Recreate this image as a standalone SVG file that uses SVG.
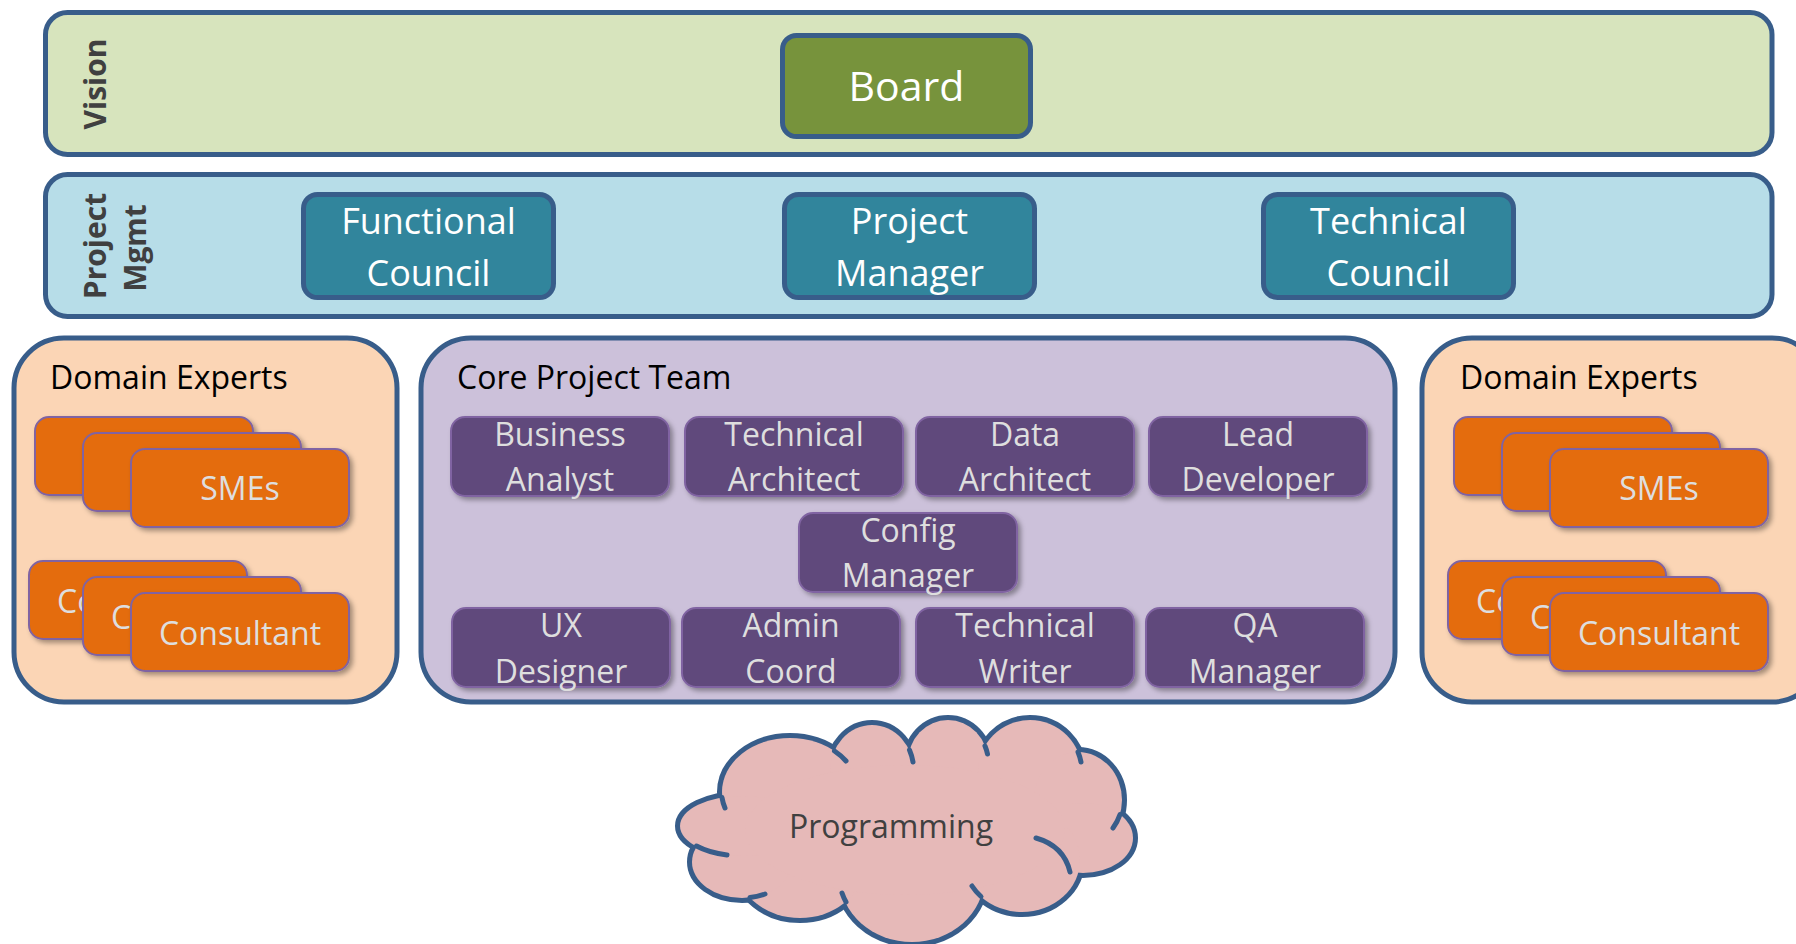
<svg xmlns="http://www.w3.org/2000/svg" width="1796" height="944" viewBox="0 0 1796 944">
<defs>
<style>
.frame{stroke:#385d8a;stroke-width:5}
.lbl{font-family:'Open Sans','Noto Sans',sans-serif;font-weight:bold;font-size:30px;fill:#404040;text-anchor:middle}
.ttl{font-family:'Open Sans','Noto Sans',sans-serif;font-size:32px;fill:#000}
.wt{font-family:'Open Sans','Noto Sans',sans-serif;font-size:36px;fill:#fff;text-anchor:middle}
.card{fill:#604a7b;stroke:#8064a2;stroke-width:2;filter:url(#sh)}
.org{fill:#e46c0a;stroke:#8064a2;stroke-width:2;filter:url(#sh)}
.ct{font-family:'Open Sans','Noto Sans',sans-serif;font-size:32px;fill:#dedede;text-anchor:middle}
.cs{font-family:'Open Sans','Noto Sans',sans-serif;font-size:32px;fill:#dedede}
.hook{fill:none;stroke:#385d8a;stroke-width:5;stroke-linecap:round}
</style>
<filter id="sh" x="-10%" y="-10%" width="130%" height="140%">
<feDropShadow dx="3" dy="3" stdDeviation="2.5" flood-color="#000" flood-opacity="0.35"/>
</filter>
<g id="cloudShape">
<ellipse cx="790" cy="792" rx="68" ry="54"/>
<ellipse cx="872" cy="772" rx="42" ry="47"/>
<ellipse cx="948" cy="762" rx="40" ry="42"/>
<ellipse cx="1030" cy="772" rx="52" ry="52"/>
<ellipse cx="1078" cy="800" rx="44" ry="48"/>
<ellipse cx="1083" cy="838" rx="50" ry="35"/>
<ellipse cx="1022" cy="860" rx="58" ry="52"/>
<ellipse cx="912" cy="878" rx="72" ry="64"/>
<ellipse cx="800" cy="868" rx="62" ry="50"/>
<ellipse cx="742" cy="862" rx="50" ry="36"/>
<ellipse cx="742" cy="826" rx="62" ry="30"/>
</g>
</defs>
<rect width="1796" height="944" fill="#fff"/>

<g id="vision-band">
<rect class="frame" x="45.5" y="12.5" width="1726.5" height="142" rx="22" fill="#d7e4bd"/>
<text class="lbl" transform="translate(106,84) rotate(-90)">Vision</text>
</g>
<g id="board">
<rect class="frame" x="782.5" y="35.5" width="248" height="101" rx="14" fill="#77933c"/>
<text class="wt" x="906.5" y="101" style="font-size:41px">Board</text>
</g>

<g id="pm-band">
<rect class="frame" x="45.5" y="174.5" width="1726.5" height="142" rx="22" fill="#b7dde8"/>
<text class="lbl" transform="translate(106,246) rotate(-90)">Project</text>
<text class="lbl" transform="translate(146,248) rotate(-90)">Mgmt</text>
</g>
<g id="functional-council">
<rect class="frame" x="303.5" y="194.5" width="250" height="103" rx="14" fill="#31859c"/>
<text class="wt" x="428.5" y="234">Functional</text>
<text class="wt" x="428.5" y="286">Council</text>
</g>
<g id="project-manager">
<rect class="frame" x="784.5" y="194.5" width="250" height="103" rx="14" fill="#31859c"/>
<text class="wt" x="909.5" y="234">Project</text>
<text class="wt" x="909.5" y="286">Manager</text>
</g>
<g id="technical-council">
<rect class="frame" x="1263.5" y="194.5" width="250" height="103" rx="14" fill="#31859c"/>
<text class="wt" x="1388.5" y="234">Technical</text>
<text class="wt" x="1388.5" y="286">Council</text>
</g>

<g id="domain-experts-left">
<rect class="frame" x="14" y="338" width="383" height="364" rx="50" fill="#fbd5b5"/>
<text class="ttl" x="50" y="389">Domain Experts</text>
<g id="smes-left">
<rect class="org" x="35" y="417" width="218" height="78" rx="14"/>
<rect class="org" x="83" y="433" width="218" height="78" rx="14"/>
<rect class="org" x="131" y="449" width="218" height="78" rx="14"/>
<text class="ct" x="240" y="500">SMEs</text>
</g>
<g id="consultants-left">
<rect class="org" x="29" y="561" width="218" height="78" rx="14"/>
<text class="cs" x="57" y="613">Co</text>
<rect class="org" x="83" y="577" width="218" height="78" rx="14"/>
<text class="cs" x="111" y="629">C</text>
<rect class="org" x="131" y="593" width="218" height="78" rx="14"/>
<text class="ct" x="240" y="645">Consultant</text>
</g>
</g>

<g id="domain-experts-right">
<rect class="frame" x="1422" y="338" width="400" height="364" rx="50" fill="#fbd5b5"/>
<text class="ttl" x="1460" y="389">Domain Experts</text>
<g id="smes-right">
<rect class="org" x="1454" y="417" width="218" height="78" rx="14"/>
<rect class="org" x="1502" y="433" width="218" height="78" rx="14"/>
<rect class="org" x="1550" y="449" width="218" height="78" rx="14"/>
<text class="ct" x="1659" y="500">SMEs</text>
</g>
<g id="consultants-right">
<rect class="org" x="1448" y="561" width="218" height="78" rx="14"/>
<text class="cs" x="1476" y="613">Co</text>
<rect class="org" x="1502" y="577" width="218" height="78" rx="14"/>
<text class="cs" x="1530" y="629">C</text>
<rect class="org" x="1550" y="593" width="218" height="78" rx="14"/>
<text class="ct" x="1659" y="645">Consultant</text>
</g>
</g>

<g id="core-project-team">
<rect class="frame" x="421" y="338" width="974" height="364" rx="50" fill="#ccc1da"/>
<text class="ttl" x="457" y="389">Core Project Team</text>
<g id="business-analyst"><rect class="card" x="451" y="417" width="218" height="79" rx="14"/><text class="ct" x="560" y="446">Business</text><text class="ct" x="560" y="491">Analyst</text></g>
<g id="technical-architect"><rect class="card" x="685" y="417" width="218" height="79" rx="14"/><text class="ct" x="794" y="446">Technical</text><text class="ct" x="794" y="491">Architect</text></g>
<g id="data-architect"><rect class="card" x="916" y="417" width="218" height="79" rx="14"/><text class="ct" x="1025" y="446">Data</text><text class="ct" x="1025" y="491">Architect</text></g>
<g id="lead-developer"><rect class="card" x="1149" y="417" width="218" height="79" rx="14"/><text class="ct" x="1258" y="446">Lead</text><text class="ct" x="1258" y="491">Developer</text></g>
<g id="config-manager"><rect class="card" x="799" y="513" width="218" height="79" rx="14"/><text class="ct" x="908" y="542">Config</text><text class="ct" x="908" y="587">Manager</text></g>
<g id="ux-designer"><rect class="card" x="452" y="608" width="218" height="79" rx="14"/><text class="ct" x="561" y="637">UX</text><text class="ct" x="561" y="683">Designer</text></g>
<g id="admin-coord"><rect class="card" x="682" y="608" width="218" height="79" rx="14"/><text class="ct" x="791" y="637">Admin</text><text class="ct" x="791" y="683">Coord</text></g>
<g id="technical-writer"><rect class="card" x="916" y="608" width="218" height="79" rx="14"/><text class="ct" x="1025" y="637">Technical</text><text class="ct" x="1025" y="683">Writer</text></g>
<g id="qa-manager"><rect class="card" x="1146" y="608" width="218" height="79" rx="14"/><text class="ct" x="1255" y="637">QA</text><text class="ct" x="1255" y="683">Manager</text></g>
</g>

<g id="programming">
<use href="#cloudShape" fill="#385d8a" stroke="#385d8a" stroke-width="10"/>
<use href="#cloudShape" fill="#e6b9b8"/>
<ellipse cx="905" cy="830" rx="160" ry="65" fill="#e6b9b8"/>
<path class="hook" d="M696.5,846 A62 30 0 0 0 727,855"/>
<path class="hook" d="M1036,838 Q1064,846 1070,872"/>
<path class="hook" d="M1120,814.5 A44 48 0 0 1 1113,828"/>
<path class="hook" d="M834.5,751 A68 54 0 0 1 846,761"/>
<path class="hook" d="M750,897.5 A50 36 0 0 0 765,894"/>
<path class="hook" d="M846,902 A72 64 0 0 1 842,893"/>
<path class="hook" d="M981,896.5 A58 52 0 0 1 972,886"/>
<path class="hook" d="M909.5,750 A42 47 0 0 1 913,762"/>
<path class="hook" d="M985,746 A40 42 0 0 1 987.5,754"/>
<path class="hook" d="M1078,752 A52 52 0 0 1 1081,762"/>
<path class="hook" d="M722,797.6 A68 54 0 0 0 725,808"/>
<text x="891" y="838" style="font-family:'Open Sans','Noto Sans',sans-serif;font-size:32px;fill:#404040;text-anchor:middle">Programming</text>
</g>

<g id="connectors"></g>
</svg>
